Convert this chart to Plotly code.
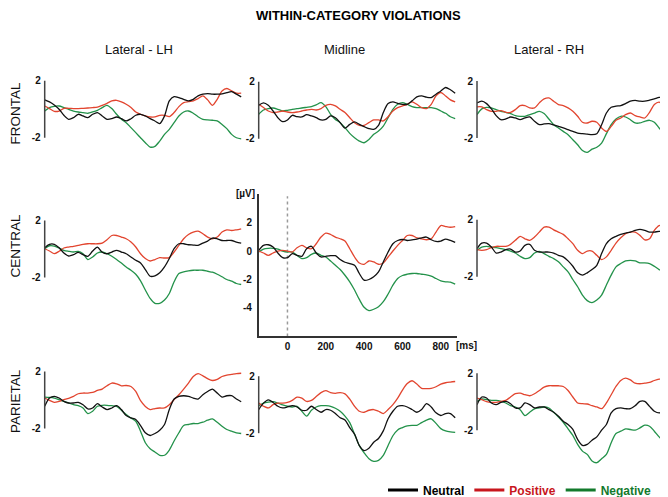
import plotly.graph_objects as go

# ---------------- data (µV), sampled every 25 ms ----------------
TIME_MS = [-150, -125, -100, -75, -50, -25, 0,
           25, 50, 75, 100, 125, 150, 175,
           200, 225, 250, 275, 300, 325, 350,
           375, 400, 425, 450, 475, 500, 525,
           550, 575, 600, 625, 650, 675, 700,
           725, 750, 775, 800, 825, 850, 875]

frontal_lh_neutral = [0.66, 0.52, 0.30, 0.00, -0.42, -0.70, -0.59,
                      -0.35, -0.47, -0.59, -0.35, -0.23, -0.47, -0.70,
                      -0.66, -0.54, -0.66, -0.82, -0.66, -0.42, -0.35,
                      -0.47, -0.66, -0.82, -1.00, -0.47, 0.59, 0.89,
                      0.82, 0.70, 0.59, 0.70, 0.94, 1.06, 1.10,
                      1.06, 1.06, 1.08, 1.17, 1.24, 1.06, 0.87]
frontal_lh_positive = [0.23, 0.05, -0.14, -0.12, 0.07, 0.07, 0.05,
                       0.05, 0.07, 0.09, 0.12, 0.16, 0.28, 0.42,
                       0.59, 0.63, 0.52, 0.35, 0.12, -0.19, -0.35,
                       -0.47, -0.54, -0.54, -0.42, -0.42, -0.52, -0.23,
                       0.19, 0.47, 0.54, 0.59, 0.75, 0.94, 0.66,
                       0.28, 0.70, 1.29, 1.46, 1.29, 1.13, 1.13]
frontal_lh_negative = [-0.12, 0.12, 0.21, 0.23, 0.12, 0.00, -0.12,
                       -0.19, -0.23, -0.28, -0.19, -0.07, 0.12, 0.28,
                       0.05, -0.35, -0.70, -0.94, -1.29, -1.64, -2.00,
                       -2.35, -2.65, -2.60, -2.23, -1.76, -1.41, -0.94,
                       -0.47, -0.19, -0.12, -0.28, -0.52, -0.70, -0.75,
                       -0.77, -0.82, -1.06, -1.36, -1.76, -2.00, -2.07]

frontal_mid_neutral = [0.35, 0.52, 0.35, -0.05, -0.52, -0.80, -0.68,
                       -0.35, -0.45, -0.47, -0.31, -0.40, -0.52, -0.68,
                       -0.64, -0.40, -0.52, -0.87, -1.25, -0.99, -0.82,
                       -0.99, -1.15, -1.29, -1.34, -1.06, -0.16, 0.47,
                       0.59, 0.49, 0.42, 0.42, 0.66, 0.94, 1.01,
                       0.92, 0.89, 1.13, 1.36, 1.60, 1.44, 1.20]
frontal_mid_positive = [0.42, 0.19, -0.05, -0.16, -0.12, -0.05, -0.12,
                        -0.16, -0.12, -0.05, 0.02, 0.07, 0.02, 0.12,
                        0.35, 0.42, 0.31, 0.07, -0.16, -0.52, -0.87,
                        -1.06, -1.06, -0.87, -0.68, -0.68, -0.75, -0.45,
                        -0.05, 0.19, 0.31, 0.42, 0.59, 0.42, 0.19,
                        0.12, 0.42, 1.01, 1.25, 1.01, 0.73, 0.59]
frontal_mid_negative = [-0.28, 0.02, 0.12, 0.16, 0.07, -0.05, 0.00,
                        0.07, 0.12, 0.16, 0.21, 0.26, 0.38, 0.54,
                        0.26, -0.28, -0.64, -0.87, -1.22, -1.62, -1.93,
                        -2.16, -2.28, -2.05, -1.69, -1.46, -1.11, -0.52,
                        0.07, 0.42, 0.54, 0.42, 0.26, 0.19, 0.19,
                        0.19, 0.19, 0.12, -0.05, -0.21, -0.45, -0.59]

frontal_rh_neutral = [0.47, 0.59, 0.42, 0.05, -0.42, -0.71, -0.66,
                      -0.52, -0.59, -0.71, -0.59, -0.52, -0.82, -1.06,
                      -1.01, -0.99, -1.08, -1.18, -1.29, -1.41, -1.53,
                      -1.65, -1.69, -1.72, -1.76, -1.69, -1.06, -0.24,
                      0.16, 0.24, 0.28, 0.42, 0.59, 0.64, 0.59,
                      0.59, 0.66, 0.75, 0.85, 0.87, 0.71, 0.59]
frontal_rh_positive = [0.19, 0.19, 0.00, -0.12, -0.12, -0.07, -0.19,
                       -0.19, 0.00, 0.28, 0.28, 0.12, 0.12, 0.47,
                       0.75, 0.82, 0.59, 0.35, 0.28, 0.12, -0.12,
                       -0.47, -0.89, -0.94, -0.82, -0.89, -1.29, -1.53,
                       -1.18, -0.75, -0.59, -0.35, -0.24, -0.42, -0.52,
                       -0.59, -0.19, 0.35, 0.52, 0.28, 0.05, 0.00]
frontal_rh_negative = [-0.35, 0.05, 0.16, 0.12, 0.00, -0.12, -0.19,
                       -0.28, -0.42, -0.47, -0.47, -0.35, -0.24, -0.12,
                       -0.28, -0.66, -1.06, -1.29, -1.53, -1.76, -2.12,
                       -2.47, -2.87, -3.00, -2.78, -2.64, -2.35, -1.69,
                       -1.06, -0.66, -0.47, -0.52, -0.71, -0.94, -0.94,
                       -0.82, -0.75, -0.89, -1.29, -1.65, -1.72, -1.72]

central_lh_neutral = [0.09, 0.33, 0.33, 0.09, -0.28, -0.49, -0.40,
                      -0.23, -0.40, -0.51, -0.14, 0.14, -0.23, -0.33,
                      -0.21, -0.09, -0.21, -0.33, -0.56, -0.79, -0.98,
                      -1.44, -1.91, -1.88, -1.67, -1.26, -0.67, 0.02,
                      0.37, 0.37, 0.30, 0.28, 0.26, 0.42, 0.56,
                      0.77, 0.72, 0.60, 0.60, 0.60, 0.49, 0.42]
central_lh_positive = [0.02, -0.14, -0.33, -0.16, 0.07, 0.14, 0.19,
                       0.26, 0.33, 0.37, 0.37, 0.37, 0.42, 0.65,
                       0.95, 0.95, 0.84, 0.72, 0.49, 0.14, -0.33,
                       -0.67, -0.84, -0.74, -0.60, -0.63, -0.60, -0.21,
                       0.26, 0.72, 1.02, 1.19, 1.26, 1.07, 0.84,
                       0.72, 0.84, 1.19, 1.35, 1.30, 1.35, 1.42]
central_lh_negative = [0.02, 0.23, 0.21, 0.07, -0.09, -0.16, -0.21,
                       -0.16, -0.33, -0.74, -0.56, -0.28, -0.21, -0.33,
                       -0.51, -0.74, -0.98, -1.26, -1.49, -1.77, -2.23,
                       -2.88, -3.47, -3.81, -3.81, -3.58, -3.12, -2.30,
                       -1.72, -1.60, -1.53, -1.49, -1.49, -1.49, -1.56,
                       -1.63, -1.77, -1.95, -2.14, -2.26, -2.42, -2.49]

central_mid_neutral = [0.05, 0.40, 0.44, 0.28, -0.14, -0.47, -0.47,
                       -0.19, -0.30, -0.37, 0.16, 0.33, -0.14, -0.42,
                       -0.37, -0.33, -0.33, -0.60, -0.79, -0.88, -1.00,
                       -1.58, -2.05, -2.00, -1.81, -1.47, -0.77, -0.07,
                       0.51, 0.74, 0.81, 0.74, 0.79, 0.84, 0.93,
                       0.98, 0.79, 0.67, 0.70, 0.84, 0.74, 0.60]
central_mid_positive = [0.00, -0.14, -0.30, -0.14, 0.00, 0.05, 0.00,
                        -0.07, 0.23, 0.40, 0.23, 0.16, 0.51, 0.98,
                        1.26, 1.16, 0.98, 0.86, 0.70, 0.16, -0.42,
                        -0.84, -0.93, -0.70, -0.77, -0.93, -0.84, -0.42,
                        0.00, 0.40, 0.74, 1.09, 1.09, 0.93, 0.86,
                        0.79, 0.86, 1.33, 1.79, 1.72, 1.67, 1.72]
central_mid_negative = [-0.07, 0.14, 0.19, 0.19, 0.14, 0.00, -0.07,
                        -0.07, -0.30, -0.53, -0.47, -0.23, -0.14, -0.30,
                        -0.42, -0.70, -1.00, -1.30, -1.70, -2.16, -2.74,
                        -3.40, -3.95, -4.19, -4.09, -3.91, -3.56, -3.02,
                        -2.40, -1.93, -1.72, -1.63, -1.58, -1.58, -1.63,
                        -1.67, -1.77, -1.93, -2.09, -2.16, -2.19, -2.33]

central_rh_neutral = [-0.02, 0.37, 0.37, 0.09, -0.33, -0.26, -0.09,
                      -0.05, -0.26, -0.19, 0.21, 0.28, -0.14, -0.26,
                      -0.26, -0.26, -0.33, -0.49, -0.60, -0.88, -1.26,
                      -1.72, -1.88, -1.72, -1.49, -1.19, -0.37, 0.33,
                      0.67, 0.84, 0.98, 1.07, 1.14, 1.26, 1.33,
                      1.26, 1.14, 1.14, 1.19, 1.14, 1.02, 0.95]
central_rh_positive = [-0.09, -0.14, -0.09, 0.05, 0.14, 0.14, 0.14,
                       0.28, 0.56, 0.84, 0.67, 0.56, 0.79, 1.14,
                       1.49, 1.49, 1.30, 1.14, 0.98, 0.67, 0.33,
                       -0.14, -0.37, -0.19, -0.19, -0.49, -0.79, -0.60,
                       -0.14, 0.37, 0.74, 1.02, 1.14, 1.14, 0.91,
                       0.60, 0.67, 1.26, 1.60, 1.60, 1.49, 1.49]
central_rh_negative = [-0.14, 0.09, 0.14, 0.09, 0.05, -0.02, -0.09,
                       -0.19, -0.33, -0.56, -0.72, -0.65, -0.33, -0.21,
                       -0.37, -0.56, -0.72, -0.95, -1.30, -1.65, -2.19,
                       -2.70, -3.28, -3.67, -3.81, -3.63, -3.28, -2.58,
                       -1.88, -1.30, -1.07, -0.88, -0.84, -0.88, -1.02,
                       -1.02, -1.07, -1.26, -1.49, -1.60, -1.67, -1.67]

parietal_lh_neutral = [-0.44, 0.14, 0.26, 0.14, -0.09, -0.21, -0.21,
                       -0.16, -0.33, -0.63, -0.56, -0.26, -0.49, -0.67,
                       -0.56, -0.40, -0.67, -1.09, -1.26, -1.37, -1.79,
                       -2.30, -2.49, -2.35, -2.12, -1.72, -0.67, 0.07,
                       0.26, 0.30, 0.26, 0.14, 0.07, 0.37, 0.60,
                       0.77, 0.49, 0.21, 0.30, 0.30, 0.07, -0.12]
parietal_lh_positive = [0.14, -0.02, -0.16, -0.09, 0.02, 0.12, 0.26,
                        0.44, 0.49, 0.49, 0.53, 0.67, 0.77, 1.00,
                        1.19, 1.14, 1.00, 1.02, 0.95, 0.60, -0.05,
                        -0.45, -0.67, -0.60, -0.56, -0.56, -0.33, 0.02,
                        0.37, 0.77, 1.19, 1.65, 1.85, 1.70, 1.50,
                        1.37, 1.45, 1.65, 1.75, 1.80, 1.85, 1.88]
parietal_lh_negative = [0.21, 0.19, 0.14, 0.02, -0.09, -0.21, -0.33,
                        -0.40, -0.56, -0.95, -0.79, -0.44, -0.37, -0.37,
                        -0.40, -0.44, -0.72, -1.02, -1.26, -1.49, -2.19,
                        -3.00, -3.42, -3.65, -3.88, -3.88, -3.51, -2.88,
                        -2.30, -1.79, -1.72, -1.65, -1.65, -1.56, -1.42,
                        -1.33, -1.56, -1.84, -2.07, -2.19, -2.30, -2.35]

parietal_mid_neutral = [-0.34, 0.11, 0.34, 0.16, -0.11, -0.23, -0.16,
                        -0.07, -0.16, -0.39, -0.39, -0.11, -0.34, -0.53,
                        -0.34, -0.39, -0.62, -0.92, -1.08, -1.61, -2.07,
                        -2.87, -3.22, -3.06, -2.64, -2.37, -1.84, -0.99,
                        -0.46, -0.11, -0.07, -0.16, -0.34, -0.53, -0.34,
                        0.07, -0.16, -0.57, -0.76, -0.62, -0.62, -0.92]
parietal_mid_positive = [0.11, -0.11, -0.23, 0.00, 0.11, 0.11, 0.16,
                         0.30, 0.53, 0.46, 0.23, 0.30, 0.57, 0.85,
                         0.99, 0.85, 0.80, 0.85, 0.76, 0.39, -0.11,
                         -0.46, -0.53, -0.39, -0.34, -0.46, -0.62, -0.34,
                         0.00, 0.46, 1.03, 1.49, 1.68, 1.45, 1.15,
                         1.13, 1.15, 1.26, 1.45, 1.54, 1.59, 1.63]
parietal_mid_negative = [-0.07, 0.11, 0.18, 0.21, 0.11, -0.02, -0.11,
                         -0.16, -0.11, -0.46, -0.80, -0.39, -0.16, -0.07,
                         -0.07, -0.11, -0.25, -0.46, -0.80, -1.26, -2.07,
                         -2.87, -3.38, -3.79, -3.98, -3.91, -3.56, -2.87,
                         -2.18, -1.77, -1.61, -1.49, -1.45, -1.45, -1.26,
                         -1.08, -0.99, -1.31, -1.68, -1.84, -1.91, -1.95]

parietal_rh_neutral = [-0.21, 0.33, 0.26, -0.09, -0.21, -0.05, 0.02,
                       -0.14, -0.44, -0.44, -0.09, -0.21, -0.44, -0.37,
                       -0.37, -0.56, -0.74, -1.02, -1.37, -1.60, -1.95,
                       -2.65, -3.07, -3.00, -2.70, -2.47, -2.00, -1.60,
                       -0.79, -0.49, -0.44, -0.49, -0.49, -0.28, 0.02,
                       0.02, -0.33, -0.67, -0.79, -0.67, -0.91, -1.14]
parietal_rh_positive = [0.26, 0.14, 0.00, -0.05, -0.05, 0.02, 0.09,
                        0.33, 0.56, 0.60, 0.49, 0.42, 0.56, 0.79,
                        1.02, 1.12, 1.12, 1.12, 1.07, 0.79, 0.33,
                        -0.09, -0.14, -0.16, -0.28, -0.37, -0.49, -0.09,
                        0.49, 1.07, 1.49, 1.65, 1.53, 1.30, 1.26,
                        1.30, 1.35, 1.49, 1.58, 1.58, 1.58, 1.58]
parietal_rh_negative = [0.02, 0.19, 0.14, 0.09, 0.09, 0.02, -0.09,
                        -0.28, -0.37, -0.56, -0.98, -0.74, -0.51, -0.44,
                        -0.37, -0.44, -0.74, -1.07, -1.44, -1.91, -2.37,
                        -3.00, -3.47, -3.70, -4.16, -4.28, -4.00, -3.70,
                        -2.88, -2.23, -2.07, -1.91, -1.95, -2.00, -1.84,
                        -1.65, -1.72, -2.07, -2.47, -2.77, -2.93, -3.00]

ROW_LABELS = ["FRONTAL", "CENTRAL", "PARIETAL"]
COL_LABELS = ["Lateral - LH", "Midline", "Lateral - RH"]
SERIES = ["Neutral", "Positive", "Negative"]
MAIN_X_TICKS = [0, 200, 400, 600, 800]
MAIN_Y_TICKS = [-4, -2, 0, 2]
SMALL_Y_TICKS = [-2, 2]

PANELS = [
    [(frontal_lh_neutral, frontal_lh_positive, frontal_lh_negative),
     (frontal_mid_neutral, frontal_mid_positive, frontal_mid_negative),
     (frontal_rh_neutral, frontal_rh_positive, frontal_rh_negative)],
    [(central_lh_neutral, central_lh_positive, central_lh_negative),
     (central_mid_neutral, central_mid_positive, central_mid_negative),
     (central_rh_neutral, central_rh_positive, central_rh_negative)],
    [(parietal_lh_neutral, parietal_lh_positive, parietal_lh_negative),
     (parietal_mid_neutral, parietal_mid_positive, parietal_mid_negative),
     (parietal_rh_neutral, parietal_rh_positive, parietal_rh_negative)],
]

# ---------------- styling / layout geometry ----------------
W, H = 668, 497
FONT = "Liberation Sans, Arial, Helvetica, sans-serif"
LINE_COLORS = {"Neutral": "#111111", "Positive": "#e2452f", "Negative": "#23924a"}
LEGEND_COLORS = {"Neutral": "#000000", "Positive": "#c8161d", "Negative": "#137a2c"}
T_MIN, T_MAX = -150, 883
PX_PER_MS = 0.1917
PX_PER_UV = 14.3
COL_LEFT_PX = [36.7, 250.7, 469.0]
ZERO_PX = [[101.7, 102.7, 102.0],
           [242.0, 244.0, 241.3],
           [393.6, 398.3, 395.3]]
# y ranges of the left-column panels are chosen so the row label (axis title) is centred
# where the reference shows it
LEFT_Y_RANGE = [(-4.3, 3.7), (-4.29, 4.71), (-4.6, 4.4)]
MAIN = (1, 1)

fig = go.Figure()
layout_axes = {}
shapes = []

for r in range(3):
    for c in range(3):
        k = r * 3 + c + 1
        xa = "x" if k == 1 else f"x{k}"
        ya = "y" if k == 1 else f"y{k}"
        is_main = (r, c) == MAIN
        if is_main:
            ymin, ymax = (-6, 4)
        elif c == 0:
            ymin, ymax = LEFT_Y_RANGE[r]
        else:
            ymin, ymax = (-5, 3)
        left = COL_LEFT_PX[c]
        zero = ZERO_PX[r][c]
        xdom = [left / W, (left + (T_MAX - T_MIN) * PX_PER_MS) / W]
        ydom = [1 - (zero - ymin * PX_PER_UV) / H, 1 - (zero - ymax * PX_PER_UV) / H]

        neutral, positive, negative = PANELS[r][c]
        for name, vals in (("Negative", negative), ("Positive", positive), ("Neutral", neutral)):
            fig.add_trace(go.Scatter(
                x=TIME_MS, y=vals, mode="lines", xaxis=xa, yaxis=ya,
                line=dict(color=LINE_COLORS[name], width=1.3, shape="spline", smoothing=0.8),
                showlegend=False, hoverinfo="skip"))

        xkey = "xaxis" if k == 1 else f"xaxis{k}"
        ykey = "yaxis" if k == 1 else f"yaxis{k}"
        yticks = MAIN_Y_TICKS if is_main else SMALL_Y_TICKS
        layout_axes[xkey] = dict(
            domain=xdom, range=[T_MIN, T_MAX], anchor=ya, showgrid=False, zeroline=False,
            visible=is_main, showline=is_main, linecolor="#333333", linewidth=1.5,
            tickvals=MAIN_X_TICKS, ticktext=[f"<b>{v}</b>" for v in MAIN_X_TICKS],
            ticks="", tickfont=dict(family=FONT, size=10, color="#111111"), fixedrange=True)
        yaxis = dict(
            domain=ydom, range=[ymin, ymax], anchor=xa, showgrid=False, zeroline=False,
            showline=is_main, linecolor="#333333", linewidth=1.5,
            tickvals=yticks, ticktext=[f"<b>{v}</b>" for v in yticks],
            ticks="", ticklabelstandoff=3,
            tickfont=dict(family=FONT, size=10, color="#111111"), fixedrange=True)
        if c == 0:
            yaxis["title"] = dict(text=ROW_LABELS[r], standoff=12,
                                  font=dict(family=FONT, size=13.5, color="#111111"))
        layout_axes[ykey] = yaxis

        if is_main:
            shapes.append(dict(type="line", xref=xa, yref=ya, x0=0, x1=0, y0=ymin, y1=3.85,
                               line=dict(color="#9a9a9a", width=1.5, dash="dot"), layer="below"))
        else:
            shapes.append(dict(type="line", xref="paper", yref=ya, x0=xdom[0], x1=xdom[0],
                               y0=SMALL_Y_TICKS[0], y1=SMALL_Y_TICKS[-1],
                               line=dict(color="#444444", width=1.5)))

# legend entries
for name in SERIES:
    fig.add_trace(go.Scatter(
        x=[None], y=[None], mode="lines", xaxis="x", yaxis="y",
        line=dict(color=LEGEND_COLORS[name], width=3),
        name=f"<span style='color:{LEGEND_COLORS[name]}'><b>{name}</b></span>",
        showlegend=True))

annotations = [
    dict(text="<b>WITHIN-CATEGORY VIOLATIONS</b>", x=351 / W, y=1 - 8 / H,
         font=dict(size=13, family=FONT, color="#000")),
]
for label, cx in zip(COL_LABELS, [131, 337, 541]):
    annotations.append(dict(text=label, x=cx / W, y=1 - 42 / H,
                            font=dict(size=13, family=FONT, color="#111")))
annotations.append(dict(text="<b>[µV]</b>", x=238 / W, y=1 - 186 / H,
                        font=dict(size=10, family=FONT, color="#111")))
annotations.append(dict(text="<b>[ms]</b>", x=458 / W, y=1 - 339 / H,
                        font=dict(size=10, family=FONT, color="#111")))
for a in annotations:
    a.update(xref="paper", yref="paper", showarrow=False, xanchor="center", yanchor="middle")

fig.update_layout(
    width=W, height=H, autosize=False,
    margin=dict(l=0, r=0, t=0, b=0),
    paper_bgcolor="white", plot_bgcolor="rgba(0,0,0,0)",
    showlegend=True,
    legend=dict(orientation="h", x=375 / W, xanchor="left", y=1 - 484 / H, yanchor="middle",
                font=dict(family=FONT, size=12, color="#000"), itemwidth=30,
                bgcolor="rgba(0,0,0,0)", tracegroupgap=0),
    annotations=annotations,
    shapes=shapes,
    **layout_axes,
)

fig.write_html("out.html")
